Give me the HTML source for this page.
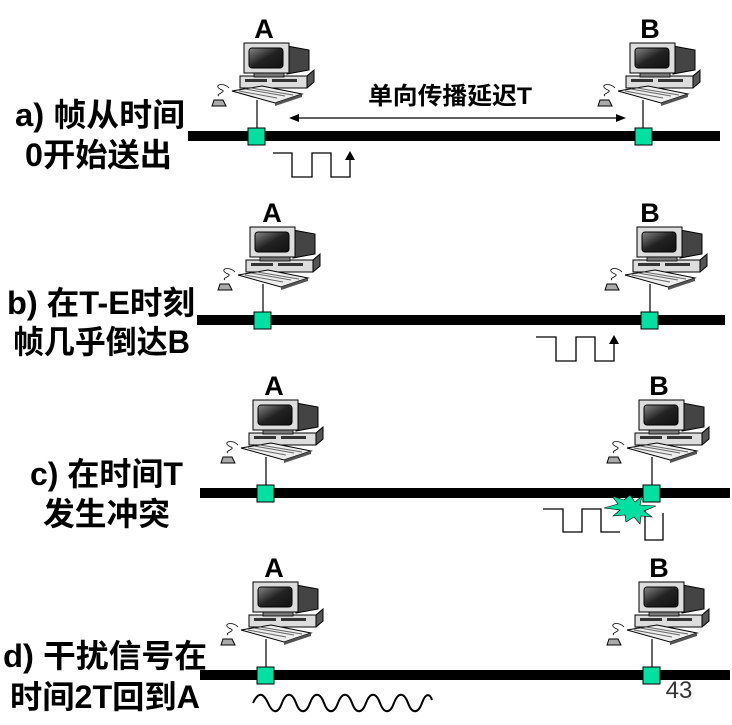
<!DOCTYPE html>
<html><head><meta charset="utf-8"><style>
html,body{margin:0;padding:0;background:#fff;}
svg{display:block;}
.lbl{font-family:"Liberation Sans","Noto Sans CJK SC",sans-serif;font-weight:bold;font-size:32px;fill:#000;}
.ab{font-family:"Liberation Sans",sans-serif;font-weight:bold;font-size:27px;fill:#000;}
</style></head><body>
<svg width="732" height="725" viewBox="0 0 732 725" xmlns="http://www.w3.org/2000/svg">
<defs>
<linearGradient id="scr" x1="0" y1="0" x2="1" y2="1"><stop offset="0" stop-color="#888"/><stop offset="0.5" stop-color="#222"/><stop offset="1" stop-color="#111"/></linearGradient>
<symbol id="pc" overflow="visible">
 <line x1="0" y1="-36" x2="0" y2="0" stroke="#000" stroke-width="1.2"/>
 <polygon points="-17,-60 50,-60 57,-66 57,-54 50,-48 -17,-48" fill="#555" stroke="#000"/>
 <rect x="-17" y="-60" width="67" height="12" fill="#ddd" stroke="#000"/>
 <rect x="-12" y="-57" width="22" height="3" fill="#333"/>
 <rect x="15" y="-57" width="25" height="3" fill="#333"/>
 <polygon points="30,-90 52,-86 52,-66 30,-62" fill="#444" stroke="#000"/>
 <rect x="-13" y="-93" width="45" height="30" fill="#ddd" stroke="#000"/>
 <rect x="-8" y="-88" width="34" height="20" rx="3" fill="url(#scr)" stroke="#000"/>
 <rect x="-3" y="-63" width="30" height="4" fill="#777" stroke="#000" stroke-width="0.8"/>
 <polygon points="-25,-45 5,-50 45,-42 18,-33" fill="#eee" stroke="#000"/>
 <line x1="-18" y1="-45" x2="20" y2="-38" stroke="#666"/>
 <line x1="-12" y1="-47" x2="28" y2="-40" stroke="#666"/>
 <line x1="-6" y1="-48" x2="36" y2="-41" stroke="#666"/>
 <polygon points="18,-33 45,-42 45,-39 18,-30" fill="#555"/>
 <path d="M-28,-48 C-35,-55 -45,-50 -35,-46 C-30,-44 -42,-42 -38,-40" fill="none" stroke="#000" stroke-width="0.8"/>
 <path d="M-45,-30 L-43,-36 L-34,-36 L-31,-30 Z" fill="#aaa" stroke="#000"/>
</symbol>
</defs>

<!-- Panel a -->
<rect x="188" y="131" width="532" height="10" fill="#000"/>
<use href="#pc" x="257" y="136"/>
<use href="#pc" x="643" y="136"/>
<text class="ab" x="264" y="38" text-anchor="middle">A</text>
<text class="ab" x="650" y="38" text-anchor="middle">B</text>
<rect x="248" y="128" width="17" height="17" fill="#00e0a0" stroke="#000"/>
<rect x="635" y="128" width="17" height="17" fill="#00e0a0" stroke="#000"/>
<text class="lbl" x="15" y="126" textLength="170" lengthAdjust="spacingAndGlyphs">a) 帧从时间</text>
<text class="lbl" x="25" y="166" textLength="147" lengthAdjust="spacingAndGlyphs">0开始送出</text>
<text class="lbl" x="368" y="104" textLength="164" lengthAdjust="spacingAndGlyphs" style="font-size:24px">单向传播延迟T</text>
<line x1="295" y1="118" x2="620" y2="118" stroke="#000" stroke-width="1.2"/>
<polygon points="289,118 299,114 299,122" fill="#000"/>
<polygon points="626,118 616,114 616,122" fill="#000"/>
<polyline points="273,153 292,153 292,177 312,177 312,153 331,153 331,177 350,177 350,158" fill="none" stroke="#000" stroke-width="1.3"/>
<polygon points="350,151 345,160 355,160" fill="#000"/>

<!-- Panel b -->
<rect x="197" y="315" width="528" height="10" fill="#000"/>
<use href="#pc" x="263" y="320"/>
<use href="#pc" x="650" y="320"/>
<text class="ab" x="272" y="222" text-anchor="middle">A</text>
<text class="ab" x="650" y="222" text-anchor="middle">B</text>
<rect x="254" y="312" width="17" height="17" fill="#00e0a0" stroke="#000"/>
<rect x="641" y="312" width="17" height="17" fill="#00e0a0" stroke="#000"/>
<text class="lbl" x="7" y="314" textLength="188" lengthAdjust="spacingAndGlyphs">b) 在T-E时刻</text>
<text class="lbl" x="13" y="353" textLength="177" lengthAdjust="spacingAndGlyphs">帧几乎倒达B</text>
<polyline points="536,337 556,337 556,361 576,361 576,337 595,337 595,361 614,361 614,342" fill="none" stroke="#000" stroke-width="1.3"/>
<polygon points="614,335 609,344 619,344" fill="#000"/>

<!-- Panel c -->
<rect x="200" y="488" width="530" height="10" fill="#000"/>
<use href="#pc" x="266" y="493"/>
<use href="#pc" x="652" y="493"/>
<text class="ab" x="274" y="395" text-anchor="middle">A</text>
<text class="ab" x="659" y="395" text-anchor="middle">B</text>
<rect x="257" y="485" width="17" height="17" fill="#00e0a0" stroke="#000"/>
<rect x="643" y="485" width="17" height="17" fill="#00e0a0" stroke="#000"/>
<text class="lbl" x="30" y="485" textLength="153" lengthAdjust="spacingAndGlyphs">c) 在时间T</text>
<text class="lbl" x="43" y="525" textLength="127" lengthAdjust="spacingAndGlyphs">发生冲突</text>
<polyline points="543,509 563,509 563,532 582,532 582,509 601,509 601,532 620,532" fill="none" stroke="#000" stroke-width="1.3"/>
<polyline points="645,510 645,540 663,540 663,513" fill="none" stroke="#000" stroke-width="1.3"/>
<polygon fill="#00e0a0" stroke="#000" stroke-width="0.6" points="630,495 635,502 642,496 640,505 656,506 644,511 652,517 641,516 640,524 634,517 626,522 625,515 613,516 620,510 604,508 618,504 612,496 624,500"/>

<!-- Panel d -->
<rect x="200" y="670" width="530" height="10" fill="#000"/>
<use href="#pc" x="266" y="675"/>
<use href="#pc" x="652" y="675"/>
<text class="ab" x="274" y="577" text-anchor="middle">A</text>
<text class="ab" x="659" y="577" text-anchor="middle">B</text>
<rect x="257" y="667" width="17" height="17" fill="#00e0a0" stroke="#000"/>
<rect x="643" y="667" width="17" height="17" fill="#00e0a0" stroke="#000"/>
<text class="lbl" x="3" y="667" textLength="204" lengthAdjust="spacingAndGlyphs">d) 干扰信号在</text>
<text class="lbl" x="10" y="708" textLength="190" lengthAdjust="spacingAndGlyphs">时间2T回到A</text>
<path d="M253,703 C258,692 263,692 268,703 S278,714 282,703 S292,692 296,703 S306,714 310,703 S320,692 324,703 S334,714 338,703 S348,692 352,703 S362,714 366,703 S376,692 380,703 S390,714 394,703 S404,692 408,703 S418,714 422,703 S430,694 432,700" fill="none" stroke="#000" stroke-width="2"/>
<text x="679" y="698" text-anchor="middle" style="font-family:'Liberation Sans',sans-serif;font-size:24px;fill:#333">43</text>
</svg>
</body></html>
